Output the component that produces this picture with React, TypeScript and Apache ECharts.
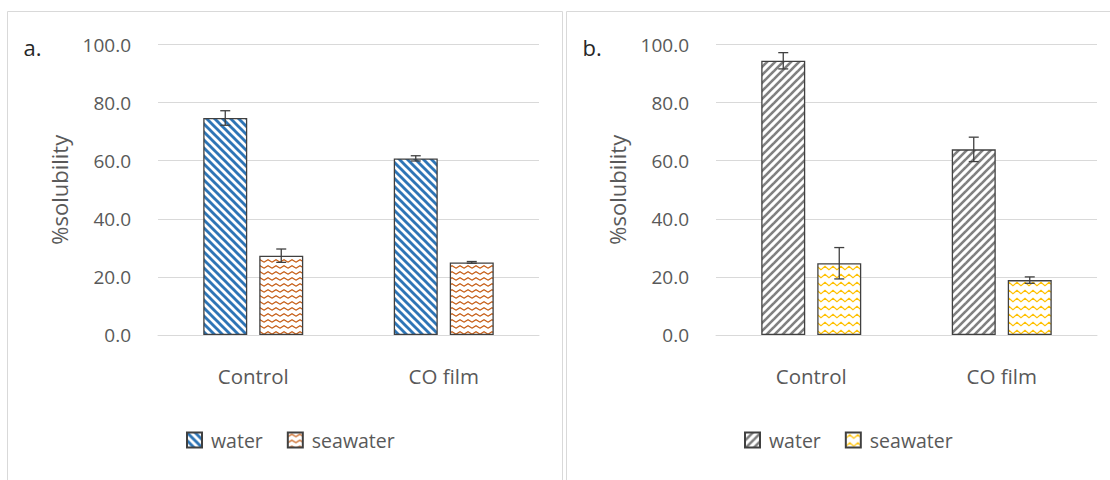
import React, { useEffect, useRef } from "react";
import * as echarts from "echarts";

// Categories and axis ticks
const categories = ["Control", "CO film"];
const yMin = 0;
const yMax = 100;
const yStep = 20;

// Panel a. values (%solubility) and error (±)
const waterA = [74.7, 60.8];
const waterAErr = [2.5, 0.9];
const seawaterA = [27.3, 25.0];
const seawaterAErr = [2.3, 0.3];

// Panel b. values (%solubility) and error (±)
const waterB = [94.4, 63.9];
const waterBErr = [2.8, 4.2];
const seawaterB = [24.7, 18.9];
const seawaterBErr = [5.4, 1.1];

const FONT = "'Open Sans', 'Noto Sans', sans-serif";
const GRID_LINE = "#d9d9d9";
const TEXT = "#595959";
const BAR_W = 44;
const BAR_GAP = 12;

type Draw = (ctx: CanvasRenderingContext2D, w: number, h: number) => void;

function tile(w: number, h: number, draw: Draw) {
  const c = document.createElement("canvas");
  c.width = w;
  c.height = h;
  const ctx = c.getContext("2d") as CanvasRenderingContext2D;
  ctx.fillStyle = "#ffffff";
  ctx.fillRect(0, 0, w, h);
  draw(ctx, w, h);
  return { image: c, repeat: "repeat", imageWidth: w, imageHeight: h };
}

// Diagonal stripes; dir = 1 for "\" and -1 for "/"
function stripes(color: string, width: number, dir: number) {
  return tile(8, 8, (ctx) => {
    ctx.strokeStyle = color;
    ctx.lineWidth = width;
    for (const s of [-8, 0, 8]) {
      ctx.beginPath();
      if (dir > 0) {
        ctx.moveTo(s - 4, -4);
        ctx.lineTo(s + 12, 12);
      } else {
        ctx.moveTo(s - 4, 12);
        ctx.lineTo(s + 12, -4);
      }
      ctx.stroke();
    }
  });
}

// Zigzag wave rows
function wave(color: string, h: number, amp: number, lw: number) {
  return tile(8, h, (ctx) => {
    ctx.strokeStyle = color;
    ctx.lineWidth = lw;
    const mid = h / 2;
    ctx.beginPath();
    ctx.moveTo(-1, mid + amp / 2 + amp / 8);
    ctx.lineTo(0, mid + amp / 2);
    ctx.lineTo(4, mid - amp / 2);
    ctx.lineTo(8, mid + amp / 2);
    ctx.lineTo(9, mid + amp / 2 - amp / 8);
    ctx.stroke();
  });
}

function errorSeries(values: number[], errs: number[], offset: number) {
  return {
    type: "custom",
    z: 10,
    silent: true,
    renderItem: (_params: any, api: any) => {
      const ci = api.value(0);
      const v = api.value(1);
      const e = api.value(2);
      const top = api.coord([ci, v + e]);
      const bot = api.coord([ci, v - e]);
      const x = top[0] + offset;
      const style = { stroke: "#404040", lineWidth: 1.3 };
      return {
        type: "group",
        children: [
          { type: "line", shape: { x1: x, y1: top[1], x2: x, y2: bot[1] }, style },
          { type: "line", shape: { x1: x - 5, y1: top[1], x2: x + 5, y2: top[1] }, style },
          { type: "line", shape: { x1: x - 5, y1: bot[1], x2: x + 5, y2: bot[1] }, style },
        ],
      };
    },
    data: values.map((v, i) => [i, v, errs[i]]),
  };
}

interface PanelSpec {
  label: string;
  frame: { x: number; y: number; width: number; height: number };
  gridLeft: number;
  legendLeft: number;
  water: number[];
  waterErr: number[];
  seawater: number[];
  seawaterErr: number[];
  waterFill: any;
  seawaterFill: any;
}

function buildOption(p: PanelSpec) {
  const barBorder = { borderColor: "#404040", borderWidth: 1.3 };
  return {
    animation: false,
    textStyle: { fontFamily: FONT },
    graphic: [
      {
        type: "rect",
        shape: p.frame,
        style: { fill: "none", stroke: GRID_LINE, lineWidth: 1 },
        silent: true,
      },
      {
        type: "text",
        x: p.frame.x + 16,
        y: 47,
        style: {
          text: p.label,
          font: `22px ${FONT}`,
          fill: "#262626",
          verticalAlign: "middle",
        },
      },
    ],
    grid: { left: p.gridLeft, top: 44.5, width: 381, height: 290.5 },
    legend: {
      data: ["water", "seawater"],
      left: p.legendLeft,
      top: 430,
      padding: 0,
      icon: "rect",
      itemWidth: 15,
      itemHeight: 15,
      itemGap: 24,
      selectedMode: false,
      textStyle: { fontSize: 19.5, color: TEXT, fontFamily: FONT, padding: [0, 0, 0, 4] },
    },
    xAxis: {
      type: "category",
      data: categories,
      axisLine: { lineStyle: { color: GRID_LINE, width: 1 } },
      axisTick: { show: false },
      axisLabel: { fontSize: 20.5, color: TEXT, margin: 30, fontFamily: FONT },
    },
    yAxis: {
      type: "value",
      min: yMin,
      max: yMax,
      interval: yStep,
      axisLine: { show: false },
      axisTick: { show: false },
      axisLabel: {
        fontSize: 19,
        color: TEXT,
        margin: 27,
        fontFamily: FONT,
        formatter: (v: number) => v.toFixed(1),
      },
      splitLine: { lineStyle: { color: GRID_LINE, width: 1 } },
      name: "%solubility",
      nameLocation: "middle",
      nameRotate: 90,
      nameGap: 88,
      nameTextStyle: { fontSize: 22, color: TEXT, fontFamily: FONT },
    },
    series: [
      {
        name: "water",
        type: "bar",
        barWidth: BAR_W,
        barGap: `${(BAR_GAP / BAR_W) * 100}%`,
        data: p.water,
        itemStyle: { color: p.waterFill, ...barBorder },
      },
      {
        name: "seawater",
        type: "bar",
        barWidth: BAR_W,
        data: p.seawater,
        itemStyle: { color: p.seawaterFill, ...barBorder },
      },
      errorSeries(p.water, p.waterErr, -(BAR_W + BAR_GAP) / 2),
      errorSeries(p.seawater, p.seawaterErr, (BAR_W + BAR_GAP) / 2),
    ],
  };
}

function Panel(props: { spec: () => PanelSpec; style: React.CSSProperties }) {
  const ref = useRef<HTMLDivElement>(null);
  useEffect(() => {
    if (!ref.current) return;
    const chart = echarts.init(ref.current, undefined, { renderer: "svg" });
    chart.setOption(buildOption(props.spec()) as any);
    return () => chart.dispose();
  }, []);
  return <div ref={ref} style={props.style} />;
}

export default function App() {
  const specA = (): PanelSpec => ({
    label: "a.",
    frame: { x: 7.5, y: 11.5, width: 555, height: 480 },
    gridLeft: 158,
    legendLeft: 186,
    water: waterA,
    waterErr: waterAErr,
    seawater: seawaterA,
    seawaterErr: seawaterAErr,
    waterFill: stripes("#2e75b6", 2.9, 1),
    seawaterFill: wave("#c55a11", 6, 2.4, 1.2),
  });
  const specB = (): PanelSpec => ({
    label: "b.",
    frame: { x: 1.5, y: 11.5, width: 600, height: 480 },
    gridLeft: 151,
    legendLeft: 179,
    water: waterB,
    waterErr: waterBErr,
    seawater: seawaterB,
    seawaterErr: seawaterBErr,
    waterFill: stripes("#808080", 2.6, -1),
    seawaterFill: wave("#ffc000", 8, 3.4, 1.2),
  });
  return (
    <div style={{ position: "fixed", left: 0, top: 0, width: 1110, height: 480, background: "#fff" }}>
      <Panel spec={specA} style={{ position: "absolute", left: 0, top: 0, width: 565, height: 480 }} />
      <Panel spec={specB} style={{ position: "absolute", left: 565, top: 0, width: 545, height: 480 }} />
    </div>
  );
}
